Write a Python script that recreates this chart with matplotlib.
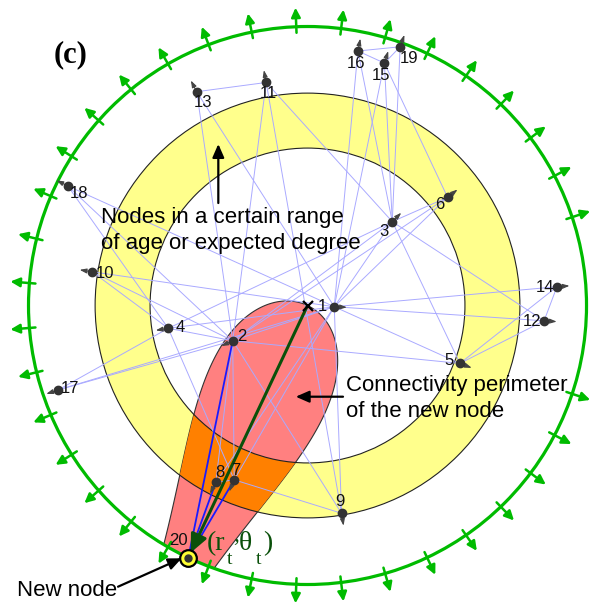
import numpy as np
import matplotlib
matplotlib.use('Agg')
import matplotlib.pyplot as plt
from matplotlib.patches import Wedge, Circle, Polygon

# native hyperbolic coordinates of the nodes (radius, angle in degrees)
node_r = [0.575, 1.775, 2.56, 3.03, 3.50, 3.80, 4.06, 4.28, 4.52, 4.68,
          4.87, 5.09, 5.17, 5.37, 5.46, 5.57, 5.65, 5.75, 5.90, 5.99]
node_theta = [357.4, 205.2, 44.7, 189.3, 339.2, 37.7, 247.2, 242.6, 279.3, 171.1,
              100.5, 356.3, 117.4, 4.3, 72.4, 78.8, 198.7, 153.5, 70.3, 244.7]

# links made by nodes 2..19 when they were born
edges = [(2, 1), (3, 1), (3, 2), (4, 1), (4, 2), (4, 3), (5, 1), (5, 2), (5, 3),
         (6, 1), (6, 2), (6, 3), (7, 1), (7, 2), (7, 4), (8, 1), (8, 2), (8, 7),
         (9, 1), (9, 2), (9, 7), (10, 1), (10, 2), (10, 4), (11, 2), (11, 3), (11, 9),
         (12, 1), (12, 3), (12, 5), (13, 1), (13, 2), (13, 11), (14, 1), (14, 5), (14, 12),
         (15, 1), (15, 3), (15, 6), (16, 1), (16, 3), (16, 15), (17, 1), (17, 2), (17, 4),
         (18, 1), (18, 2), (18, 4), (19, 3), (19, 15), (19, 16)]

# new node t=20 and the nodes it links to
new_node = 20
new_links = [2, 7, 8]

r_t = 5.99          # radius of the disk (= radial coord of the new node)
ring_in, ring_out = 3.38, 4.56
n_ticks = 39

# label offsets in pixels (dx right, dy down)
label_off = {1: (-12, 0), 2: (9, -4), 3: (-8, 10), 4: (12, -1), 5: (-11, -3),
             6: (-8, 7), 7: (2, -9), 8: (4, -10), 9: (-2, -12), 10: (13, 2),
             11: (2, 11), 12: (-12, 1), 13: (6, 11), 14: (-12, 1), 15: (-3, 12),
             16: (-2, 12), 17: (12, -1), 18: (11, 7), 19: (9, 12), 20: (-10, -17)}

GREEN = '#00bb00'
DKGREEN = '#0a500a'

th = np.deg2rad(node_theta)
xs = np.array(node_r) * np.cos(th)
ys = np.array(node_r) * np.sin(th)


def pos(i):
    return xs[i - 1], ys[i - 1]


def half_width(r, r0, R):
    # angular half width of the hyperbolic disk of radius R centred at (r0, .) at radius r
    c = (np.cosh(r) * np.cosh(r0) - np.cosh(R)) / (np.sinh(r) * np.sinh(r0))
    return np.arccos(np.clip(c, -1, 1))


def polar_xy(r, a):
    return np.column_stack([r * np.cos(a), r * np.sin(a)])


fig = plt.figure(figsize=(5.97, 6.03), dpi=100)
ax = fig.add_axes([0, 0, 1, 1])
ax.set_xlim(-6.602, 6.215)
ax.set_ylim(-6.387, 6.559)
ax.axis('off')

# yellow ring
ax.add_patch(Wedge((0, 0), ring_out, 0, 360, width=ring_out - ring_in,
                   facecolor='#ffff8c', edgecolor='none', zorder=1))

# connectivity perimeter of the new node
t0 = np.deg2rad(node_theta[new_node - 1])
rr = np.linspace(1e-4, r_t, 400)
dw = half_width(rr, r_t, r_t)
arc = np.linspace(t0 + dw[-1], t0 - dw[-1], 60)
outline = np.vstack([polar_xy(rr, t0 + dw), polar_xy(np.full_like(arc, r_t), arc),
                     polar_xy(rr[::-1], t0 - dw[::-1])])
ax.add_patch(Polygon(outline, closed=True, facecolor='#ff8080', edgecolor='#333333',
                     lw=0.8, zorder=2))

# overlap of the perimeter with the ring
rb = np.linspace(ring_in, ring_out, 200)
db = half_width(rb, r_t, r_t)
a_out = np.linspace(t0 + db[-1], t0 - db[-1], 40)
a_in = np.linspace(t0 - db[0], t0 + db[0], 40)
band = np.vstack([polar_xy(rb, t0 + db), polar_xy(np.full_like(a_out, ring_out), a_out),
                  polar_xy(rb[::-1], t0 - db[::-1]), polar_xy(np.full_like(a_in, ring_in), a_in)])
ax.add_patch(Polygon(band, closed=True, facecolor='#ff8000', edgecolor='none', zorder=3))

for rad in (ring_in, ring_out):
    ax.add_patch(Circle((0, 0), rad, fill=False, edgecolor='#222222', lw=0.8, zorder=3.5))

# existing links
for a, b in edges:
    (x1, y1), (x2, y2) = pos(a), pos(b)
    ax.plot([x1, x2], [y1, y2], color='#aaaaff', lw=0.7, zorder=4)

# links of the new node
nx, ny = pos(new_node)
for j in new_links:
    x2, y2 = pos(j)
    ax.plot([nx, x2], [ny, y2], color='#1a1aff', lw=1.3, zorder=5)

# outer circle with outward arrows
ax.add_patch(Circle((0, 0), r_t, fill=False, edgecolor=GREEN, lw=2.3, zorder=6))
for k in range(n_ticks):
    a = 2 * np.pi * k / n_ticks
    ax.annotate('', xy=(6.40 * np.cos(a), 6.40 * np.sin(a)),
                xytext=(5.86 * np.cos(a), 5.86 * np.sin(a)),
                arrowprops=dict(arrowstyle='-|>,head_length=0.55,head_width=0.27',
                                color=GREEN, lw=1.8, shrinkA=0, shrinkB=0), zorder=6)

# position vector of the new node
ax.annotate('', xy=(nx, ny), xytext=(0, 0),
            arrowprops=dict(arrowstyle='-|>,head_length=1.1,head_width=0.5',
                            color=DKGREEN, lw=2.2, shrinkA=0, shrinkB=4), zorder=7)
ax.plot(0, 0, marker='x', color='black', ms=7, mew=1.6, zorder=8)

# drift arrows and nodes
for i in range(1, new_node):
    x, y = pos(i)
    s = 1 + 0.27 / node_r[i - 1]
    ax.annotate('', xy=(x * s, y * s), xytext=(x, y),
                arrowprops=dict(arrowstyle='-|>,head_length=0.4,head_width=0.14',
                                color='#444444', lw=0.8, shrinkA=0, shrinkB=0), zorder=8)
ax.plot(xs[:-1], ys[:-1], 'o', ms=6, color='#333333', zorder=9)
ax.plot(nx, ny, 'o', ms=12, mfc='#ffff33', mec='black', mew=1.6, zorder=9)
ax.plot(nx, ny, 'o', ms=5, color='#333333', zorder=10)

for i in range(1, new_node + 1):
    dx, dy = label_off[i]
    ax.annotate(str(i), xy=pos(i), xytext=(dx * 0.72, -dy * 0.72),
                textcoords='offset points', ha='center', va='center',
                fontsize=12, family='Liberation Sans', color='#111111', zorder=11)

# (r_t, theta_t) label, subscripts set low as in a plain-text layout
serif = dict(family='Liberation Serif', color=DKGREEN, va='baseline', ha='left', zorder=11)
ax.text(-2.17, -5.25, '(r', fontsize=20, **serif)
ax.text(-1.74, -5.55, 't', fontsize=14, **serif)
ax.text(-1.60, -5.05, ',', fontsize=17, **serif)
ax.text(-1.47, -5.25, '\u03b8', fontsize=20, **serif)
ax.text(-1.10, -5.55, 't', fontsize=14, **serif)
ax.text(-0.96, -5.25, ')', fontsize=20, **serif)

txt = dict(fontsize=16, family='Liberation Sans', color='black', zorder=11, va='baseline')
ax.text(-4.444, 1.782, 'Nodes in a certain range', **txt)
ax.text(-4.444, 1.213, 'of age or expected degree', **txt)
ax.text(0.816, -1.829, 'Connectivity perimeter', **txt)
ax.text(0.816, -2.387, 'of the new node', **txt)
ax.text(-6.247, -6.237, 'New node', **txt)

arrow_kw = dict(arrowstyle='-|>,head_length=0.8,head_width=0.35', color='black',
                lw=1.6, shrinkA=0, shrinkB=0)
ax.annotate('', xy=(-1.915, 3.467), xytext=(-1.915, 2.20), arrowprops=arrow_kw, zorder=11)
ax.annotate('', xy=(-0.253, -1.958), xytext=(0.762, -1.958), arrowprops=arrow_kw, zorder=11)
ax.annotate('', xy=(-2.701, -5.427), xytext=(-4.068, -6.037), arrowprops=arrow_kw, zorder=11)

ax.text(-5.088, 5.378, '(c)', fontsize=22, fontweight='bold', family='Liberation Serif',
        ha='center', va='center', zorder=11)

fig.savefig('out.png', dpi=100)
